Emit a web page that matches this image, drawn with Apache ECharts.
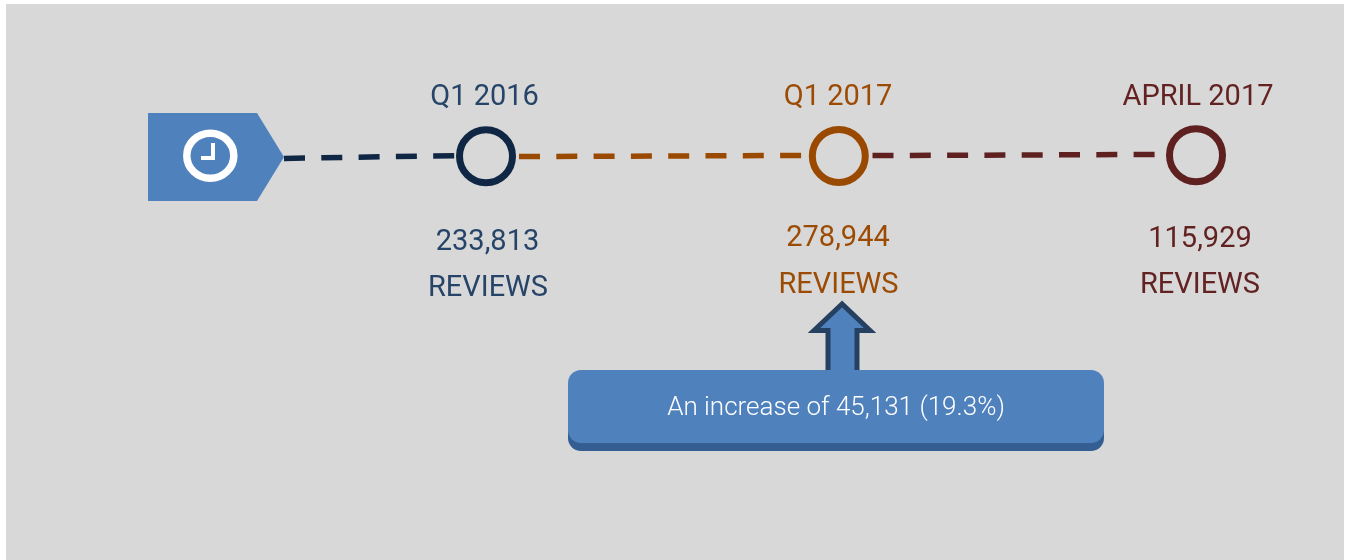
<!DOCTYPE html>
<html>
<head>
<meta charset="utf-8">
<title>Reviews timeline</title>
<script src="https://cdn.jsdelivr.net/npm/echarts@6/dist/echarts.min.js"></script>
<style>
  html, body { margin: 0; padding: 0; background: #fff; }
  #chart { width: 1345px; height: 560px; }
</style>
</head>
<body>
<div id="chart"></div>
<script>
// data
const periods = ['Q1 2016', 'Q1 2017', 'APRIL 2017']
const reviews = [233813, 278944, 115929]
const unit = 'REVIEWS'
const note = 'An increase of 45,131 (19.3%)'

// layout, in page pixels
const colors = ['#0f2744', '#9a4a00', '#5f2120']
const textColors = ['#264468', '#9c4b04', '#632222']
const nodes = [[486, 156.3], [838.8, 156], [1196, 155.2]]
const segments = [
  [[284, 158.4], [456, 155.6]],
  [[519, 156.6], [809, 155.4]],
  [[872.5, 155.6], [1156, 154.4]],
]
const periodPos = [[484.5, 98], [838, 98], [1198, 98]]
const countPos = [[487.5, 243], [838, 239], [1200, 240]]
const unitPos = [[488, 289], [838.5, 286], [1200, 286]]

const font = 'Roboto, sans-serif'
const tagBlue = '#4f81bd'

function textSeries(positions, texts) {
  return {
    type: 'scatter',
    symbolSize: 0,
    silent: true,
    z: 5,
    itemStyle: { opacity: 1 },
    data: positions.map((pos, i) => ({
      value: pos,
      label: {
        show: true,
        position: 'inside',
        formatter: texts[i],
        color: textColors[i],
        fontFamily: font,
        fontSize: 29,
        fontWeight: 400,
        opacity: 1,
      },
    })),
  }
}

const lineSeries = segments.map((seg, i) => ({
  type: 'line',
  data: seg,
  symbol: 'none',
  silent: true,
  lineStyle: { color: colors[i], width: 5.5, type: [21, 16.3], cap: 'butt' },
  z: 2,
}))

const nodeSeries = {
  type: 'scatter',
  symbol: 'circle',
  symbolSize: 53,
  silent: true,
  z: 3,
  data: nodes.map((pos, i) => ({
    value: pos,
    itemStyle: { color: 'rgba(0,0,0,0)', borderColor: colors[i], borderWidth: 7, opacity: 1 },
  })),
}

const chart = echarts.init(document.getElementById('chart'), null, { renderer: 'canvas' })

chart.setOption({
  animation: false,
  backgroundColor: '#ffffff',
  grid: { left: 0, right: 0, top: 0, bottom: 0 },
  xAxis: { type: 'value', min: 0, max: 1345, show: false },
  yAxis: { type: 'value', min: 0, max: 560, inverse: true, show: false },
  series: [
    ...lineSeries,
    nodeSeries,
    textSeries(periodPos, periods),
    textSeries(countPos, reviews.map((v) => v.toLocaleString('en-US'))),
    textSeries(unitPos, periods.map(() => unit)),
  ],
  graphic: [
    { type: 'rect', z: -10, shape: { x: 6, y: 4, width: 1338, height: 556 }, style: { fill: '#d8d8d8' } },
    // start tag with the clock
    {
      type: 'polygon', z: 1,
      shape: { points: [[148, 113], [257, 113], [284, 157], [257, 201], [148, 201]] },
      style: { fill: tagBlue },
    },
    {
      type: 'ellipse', z: 2,
      shape: { cx: 210.3, cy: 155.7, rx: 23.5, ry: 22.5 },
      style: { fill: 'none', stroke: '#fff', lineWidth: 7.5 },
    },
    { type: 'rect', z: 2, shape: { x: 211, y: 143, width: 4, height: 17 }, style: { fill: '#fff' } },
    { type: 'rect', z: 2, shape: { x: 201, y: 156, width: 14, height: 4 }, style: { fill: '#fff' } },
    // arrow and callout
    {
      type: 'polygon', z: 1,
      shape: {
        points: [[842, 304], [814, 330.5], [828, 330.5], [828, 374], [857, 374], [857, 330.5], [870, 330.5]],
      },
      style: { fill: tagBlue, stroke: '#254061', lineWidth: 5, lineJoin: 'miter' },
    },
    {
      type: 'rect', z: 2,
      shape: { x: 568, y: 378, width: 536, height: 73, r: 13 },
      style: { fill: '#345e92' },
    },
    {
      type: 'rect', z: 3,
      shape: { x: 568, y: 370, width: 536, height: 73, r: 13 },
      style: { fill: tagBlue },
    },
    {
      type: 'text', z: 4,
      x: 836, y: 408,
      style: {
        text: note,
        fill: '#fff',
        font: '300 26px ' + font,
        textAlign: 'center',
        textVerticalAlign: 'middle',
      },
    },
  ],
})
</script>
</body>
</html>
